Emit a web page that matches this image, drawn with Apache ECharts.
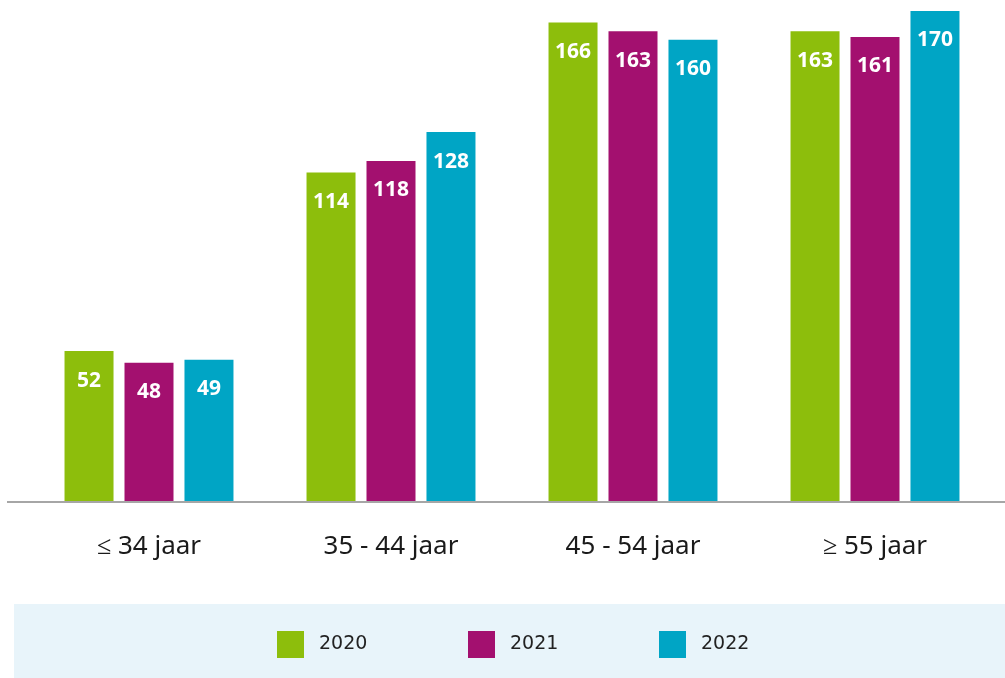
<!DOCTYPE html>
<html>
<head>
<meta charset="utf-8">
<script src="https://cdn.jsdelivr.net/npm/echarts@6/dist/echarts.min.js"></script>
<style>
  html, body { margin: 0; padding: 0; background: #fff; }
  #chart { width: 1005px; height: 678px; }
</style>
</head>
<body>
<div id="chart"></div>
<script>
var categories = ['\u2264 34 jaar', '35 - 44 jaar', '45 - 54 jaar', '\u2265 55 jaar'];
var years = ['2020', '2021', '2022'];
var values2020 = [52, 114, 166, 163];
var values2021 = [48, 118, 163, 161];
var values2022 = [49, 128, 160, 170];
var colors = ['#8dbe0c', '#a3106f', '#00a5c5'];
var legendLefts = [277, 468, 659];

var chart = echarts.init(document.getElementById('chart'));

function makeSeries(name, data, color) {
    return {
        name: name,
        type: 'bar',
        data: data,
        barWidth: 49,
        barGap: '22.4%',
        itemStyle: { color: color },
        label: {
            show: true,
            position: 'insideTop',
            distance: 19,
            color: '#fff',
            fontSize: 21,
            fontWeight: 'bold',
            fontFamily: 'Noto Sans'
        }
    };
}

var legends = [];
for (var i = 0; i < years.length; i++) {
    legends.push({
        data: [years[i]],
        left: legendLefts[i],
        top: 631,
        padding: 0,
        itemWidth: 27,
        itemHeight: 27,
        icon: 'rect',
        selectedMode: false,
        textStyle: {
            color: '#222',
            fontSize: 19,
            fontFamily: 'DejaVu Sans',
            padding: [0, 0, 0, 10]
        }
    });
}

var option = {
    animation: false,
    graphic: [
        {
            type: 'rect',
            z: -10,
            shape: { x: 14, y: 604, width: 991, height: 74 },
            style: { fill: '#e8f4fa' }
        },
        {
            type: 'line',
            z: 10,
            shape: { x1: 7, y1: 502, x2: 1005, y2: 502 },
            style: { stroke: '#a6a6a6', lineWidth: 2 }
        }
    ],
    legend: legends,
    grid: { left: 28, right: 9, top: 11, bottom: 177 },
    xAxis: {
        type: 'category',
        data: categories,
        axisLine: { show: false },
        axisTick: { show: false },
        axisLabel: {
            margin: 33,
            color: '#1a1a1a',
            fontSize: 26,
            fontFamily: 'Noto Sans'
        }
    },
    yAxis: {
        type: 'value',
        min: 0,
        max: 170,
        show: false,
        splitLine: { show: false }
    },
    series: [
        makeSeries(years[0], values2020, colors[0]),
        makeSeries(years[1], values2021, colors[1]),
        makeSeries(years[2], values2022, colors[2])
    ]
};

chart.setOption(option);
</script>
</body>
</html>
